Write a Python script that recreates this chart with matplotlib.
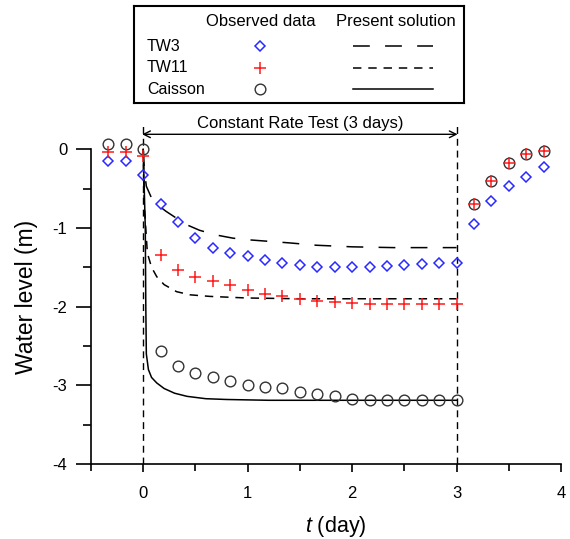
import matplotlib
matplotlib.use("Agg")
import matplotlib.pyplot as plt
from matplotlib.ticker import MultipleLocator

plt.rcParams['font.family'] = ['Liberation Sans', 'DejaVu Sans']
plt.rcParams['axes.unicode_minus'] = False
plt.rcParams['mathtext.fontset'] = 'custom'
plt.rcParams['mathtext.it'] = 'Liberation Sans:italic'
plt.rcParams['mathtext.rm'] = 'Liberation Sans'

# observed data (t in days, water level in m)
t_obs = [-0.333, -0.167, 0.0, 0.167, 0.333, 0.5, 0.667, 0.833, 1.0, 1.167, 1.333,
         1.5, 1.667, 1.833, 2.0, 2.167, 2.333, 2.5, 2.667, 2.833, 3.0,
         3.167, 3.333, 3.5, 3.667, 3.833]
tw3_obs = [-0.15, -0.15, -0.33, -0.69, -0.93, -1.13, -1.25, -1.32, -1.36, -1.41, -1.45,
           -1.47, -1.49, -1.49, -1.49, -1.49, -1.48, -1.47, -1.46, -1.45, -1.44,
           -0.95, -0.66, -0.47, -0.35, -0.23]
tw11_obs = [-0.04, -0.04, -0.09, -1.34, -1.54, -1.62, -1.68, -1.73, -1.79, -1.84, -1.87,
            -1.90, -1.93, -1.94, -1.96, -1.97, -1.97, -1.97, -1.97, -1.97, -1.97,
            -0.70, -0.40, -0.18, -0.06, -0.02]
caisson_obs = [0.07, 0.07, 0.0, -2.56, -2.76, -2.84, -2.90, -2.95, -2.99, -3.02, -3.04,
               -3.08, -3.11, -3.14, -3.17, -3.19, -3.19, -3.19, -3.19, -3.19, -3.19,
               -0.70, -0.40, -0.18, -0.06, -0.02]

# present solution
t_tw3_sol = [0, 0.01, 0.03, 0.08, 0.15, 0.22, 0.3, 0.4, 0.54, 0.7, 0.86, 1.0, 1.2,
             1.4, 1.66, 2.0, 2.4, 3.0]
tw3_sol = [0, -0.25, -0.47, -0.62, -0.72, -0.79, -0.86, -0.95, -1.03, -1.09, -1.13,
           -1.15, -1.17, -1.19, -1.22, -1.24, -1.25, -1.25]
t_tw11_sol = [0, 0.01, 0.04, 0.08, 0.13, 0.2, 0.32, 0.45, 0.64, 0.99, 1.5, 2.0, 3.0]
tw11_sol = [0, -0.7, -1.32, -1.5, -1.62, -1.72, -1.81, -1.85, -1.87, -1.89, -1.90,
            -1.90, -1.90]
t_cai_sol = [0, 0.02, 0.025, 0.03, 0.05, 0.08, 0.13, 0.2, 0.3, 0.42, 0.6, 0.8, 1.2,
             2.0, 3.0]
cai_sol = [0, -1.0, -2.0, -2.6, -2.8, -2.9, -2.97, -3.04, -3.1, -3.14, -3.17, -3.18,
           -3.19, -3.19, -3.19]

series = ["TW3", "TW11", "Caisson"]

blue = '#2a2aff'
red = '#ff1a1a'
grey = '#333333'

fig = plt.figure(figsize=(5.70, 5.39), dpi=100)
ax = fig.add_axes([0.1596, 0.1391, 0.8246, 0.657])

# model curves
ax.plot(t_tw3_sol, tw3_sol, color='black', lw=1.1, dashes=(11, 10))
ax.plot(t_tw11_sol, tw11_sol, color='black', lw=1.1, dashes=(5.5, 4.5))
ax.plot(t_cai_sol, cai_sol, color='black', lw=1.1)

# test period boundaries
for tv in (0, 3):
    ax.plot([tv, tv], [-4, 0.33], color='black', lw=1.0, dashes=(5, 3.5))

# observed points
ax.plot(t_obs, caisson_obs, 'o', ms=7.7, mfc='none', mec=grey, mew=1.0, clip_on=False)
ax.plot(t_obs, tw3_obs, 'D', ms=5.0, mfc='none', mec=blue, mew=1.1, clip_on=False)
ax.plot(t_obs, tw11_obs, '+', ms=8, color=red, mew=1.1, clip_on=False)

# constant rate arrow
ax.annotate('', xy=(-0.01, 0.19), xytext=(3.01, 0.19),
            arrowprops=dict(arrowstyle='<->', color='black', lw=1.0,
                            shrinkA=0, shrinkB=0, mutation_scale=12))
ax.text(1.5, 0.33, 'Constant Rate Test (3 days)', ha='center', va='center', fontsize=12)

ax.set_xlim(-0.5, 4)
ax.set_ylim(-4, 0.5)
ax.spines['top'].set_visible(False)
ax.spines['right'].set_visible(False)
ax.spines['left'].set_bounds(-4, 0)
ax.spines['left'].set_linewidth(1.2)
ax.spines['bottom'].set_linewidth(1.2)

ax.xaxis.set_major_locator(MultipleLocator(1))
ax.xaxis.set_minor_locator(MultipleLocator(0.5))
ax.set_yticks([-4, -3, -2, -1, 0])
ax.set_yticks([-3.5, -2.5, -1.5, -0.5], minor=True)
ax.tick_params(axis='x', which='major', direction='out', length=6, width=1.2,
               labelsize=12, pad=10)
ax.tick_params(axis='x', which='minor', direction='out', length=5, width=1.2)
ax.tick_params(axis='y', which='major', direction='out', length=11, width=1.2,
               labelsize=12, pad=6)
ax.tick_params(axis='y', which='minor', direction='out', length=6, width=1.2)

ax.set_ylabel('Water level (m)', fontsize=16.5)
ax.yaxis.set_label_coords(-0.112, 0.473)
ax.set_xlabel(r'$\it{t}$ (day)', fontsize=15.5)
ax.xaxis.set_label_coords(0.52, -0.142)

# table-like legend
lax = fig.add_axes([134 / 570, 1 - 103 / 539, 330 / 570, 97 / 539])
lax.set_xlim(0, 1)
lax.set_ylim(0, 1)
lax.set_xticks([])
lax.set_yticks([])
for s in lax.spines.values():
    s.set_linewidth(1.5)

lax.text(0.383, 0.84, 'Observed data', ha='center', va='center', fontsize=12)
lax.text(0.795, 0.84, 'Present solution', ha='center', va='center', fontsize=12)
rows = [0.584, 0.361, 0.144]
for name, yy in zip(series, rows):
    lax.text(0.039, yy, name, ha='left', va='center', fontsize=11.5)
lax.plot([0.383], [rows[0]], 'D', ms=5.0, mfc='none', mec=blue, mew=1.1)
lax.plot([0.383], [rows[1]], '+', ms=8, color=red, mew=1.1)
lax.plot([0.383], [rows[2]], 'o', ms=7.7, mfc='none', mec=grey, mew=1.0)
lax.plot([0.665, 0.905], [rows[0]] * 2, color='black', lw=1.1, dashes=(11, 10))
lax.plot([0.665, 0.905], [rows[1]] * 2, color='black', lw=1.1, dashes=(5.5, 4.5))
lax.plot([0.665, 0.905], [rows[2]] * 2, color='black', lw=1.1)

fig.savefig('out.png', dpi=100)
